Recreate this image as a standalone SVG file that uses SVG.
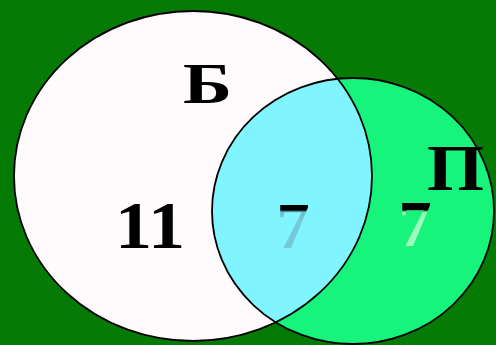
<svg xmlns="http://www.w3.org/2000/svg" width="496" height="345" viewBox="0 0 496 345">
  <defs>
    <style>
      .outline { fill: none; stroke: #000; stroke-width: 1.8; }
      .lbl { font-family: "Liberation Serif", "Times New Roman", serif; font-weight: bold; fill: #000; }
    </style>
    <clipPath id="clipB">
      <ellipse cx="193" cy="176" rx="179" ry="165"/>
    </clipPath>
    <linearGradient id="sevenMid" gradientUnits="userSpaceOnUse" x1="0" y1="200" x2="0" y2="220">
      <stop offset="0" stop-color="#000"/>
      <stop offset="0.5" stop-color="#000"/>
      <stop offset="0.6" stop-color="#68bccb"/>
      <stop offset="1" stop-color="#74cad8"/>
    </linearGradient>
    <linearGradient id="sevenRight" gradientUnits="userSpaceOnUse" x1="0" y1="200" x2="0" y2="220">
      <stop offset="0" stop-color="#000"/>
      <stop offset="0.5" stop-color="#000"/>
      <stop offset="0.6" stop-color="#8ef5b0"/>
      <stop offset="1" stop-color="#a0f8bf"/>
    </linearGradient>
  </defs>
  <rect x="0" y="0" width="496" height="345" fill="#057a05"/>
  <g id="set-B">
    <ellipse cx="193" cy="176" rx="179" ry="165" fill="#fffafc"/>
  </g>
  <g id="set-P">
    <ellipse cx="353" cy="211" rx="141" ry="133" fill="#17f47c"/>
  </g>
  <g id="intersection">
    <ellipse cx="353" cy="211" rx="141" ry="133" fill="#80f4ff" clip-path="url(#clipB)"/>
  </g>
  <g id="outlines">
    <ellipse class="outline" cx="193" cy="176" rx="179" ry="165"/>
    <ellipse class="outline" cx="353" cy="211" rx="141" ry="133"/>
  </g>
  <g id="connectors"/>
  <g id="labels">
    <text class="lbl" x="183" y="103" font-size="57" textLength="49" lengthAdjust="spacingAndGlyphs">Б</text>
    <text class="lbl" x="427" y="190" font-size="65" textLength="57" lengthAdjust="spacingAndGlyphs">П</text>
    <text class="lbl" x="115" y="248" font-size="68" textLength="70" lengthAdjust="spacingAndGlyphs">11</text>
    <text class="lbl" x="293" y="248" font-size="66" text-anchor="middle" style="fill:url(#sevenMid)">7</text>
    <text class="lbl" x="415" y="246" font-size="66" text-anchor="middle" style="fill:url(#sevenRight)">7</text>
  </g>
</svg>
